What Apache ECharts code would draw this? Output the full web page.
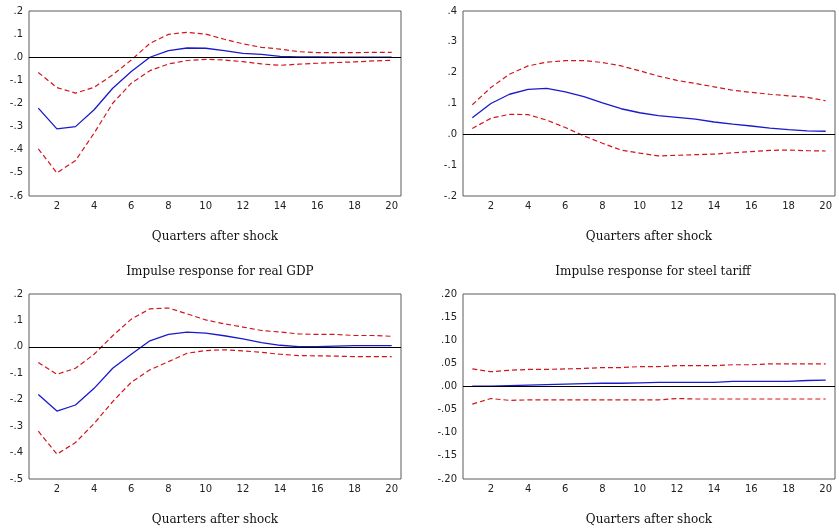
<!DOCTYPE html>
<html>
<head>
<meta charset="utf-8">
<script src="https://cdn.jsdelivr.net/npm/echarts@6/dist/echarts.min.js"></script>
<style>
    html, body { margin: 0; padding: 0; background: #fff; }
    #irf_chart { width: 839px; height: 529px; }
</style>
</head>
<body>
<div id="irf_chart"></div>
<script>
// quarters after the shock
var quarters = ['1', '2', '3', '4', '5', '6', '7', '8', '9', '10',
    '11', '12', '13', '14', '15', '16', '17', '18', '19', '20'];

// top left panel
var respA = [-0.22, -0.31, -0.30, -0.227, -0.134, -0.062, 0.0, 0.029, 0.040, 0.039,
    0.029, 0.017, 0.012, 0.004, 0.002, 0.001, 0.0, 0.0, 0.0, 0.0];
var upperA = [-0.066, -0.131, -0.155, -0.13, -0.076, -0.012, 0.06, 0.099, 0.108, 0.10,
    0.078, 0.058, 0.043, 0.035, 0.024, 0.02, 0.02, 0.02, 0.021, 0.021];
var lowerA = [-0.396, -0.50, -0.447, -0.328, -0.199, -0.112, -0.058, -0.029, -0.014, -0.009,
    -0.012, -0.019, -0.029, -0.035, -0.03, -0.026, -0.023, -0.02, -0.016, -0.013];

// top right panel
var respB = [0.054, 0.10, 0.13, 0.146, 0.149, 0.138, 0.122, 0.102, 0.083, 0.07,
    0.061, 0.055, 0.049, 0.04, 0.033, 0.027, 0.02, 0.015, 0.011, 0.01];
var upperB = [0.096, 0.152, 0.195, 0.222, 0.234, 0.239, 0.239, 0.233, 0.222, 0.206,
    0.189, 0.175, 0.165, 0.154, 0.143, 0.136, 0.13, 0.125, 0.12, 0.109];
var lowerB = [0.019, 0.052, 0.065, 0.064, 0.046, 0.022, -0.005, -0.029, -0.051, -0.061,
    -0.07, -0.068, -0.066, -0.064, -0.06, -0.056, -0.052, -0.051, -0.053, -0.054];

// bottom left: real GDP
var respC = [-0.18, -0.243, -0.22, -0.157, -0.081, -0.028, 0.023, 0.047, 0.056, 0.052,
    0.042, 0.03, 0.016, 0.006, 0.001, 0.001, 0.003, 0.005, 0.005, 0.005];
var upperC = [-0.059, -0.104, -0.081, -0.028, 0.042, 0.105, 0.144, 0.147, 0.125, 0.102,
    0.087, 0.075, 0.062, 0.056, 0.049, 0.047, 0.047, 0.043, 0.043, 0.04];
var lowerC = [-0.319, -0.406, -0.362, -0.29, -0.207, -0.134, -0.087, -0.056, -0.024, -0.014,
    -0.011, -0.015, -0.021, -0.028, -0.033, -0.034, -0.035, -0.037, -0.037, -0.037];

// bottom right: steel tariff
var respD = [0.001, 0.001, 0.002, 0.003, 0.004, 0.005, 0.006, 0.007, 0.007, 0.008,
    0.009, 0.009, 0.009, 0.009, 0.011, 0.011, 0.011, 0.011, 0.013, 0.014];
var upperD = [0.038, 0.032, 0.035, 0.037, 0.037, 0.038, 0.039, 0.041, 0.041, 0.043,
    0.043, 0.045, 0.045, 0.045, 0.047, 0.047, 0.049, 0.049, 0.049, 0.049];
var lowerD = [-0.038, -0.026, -0.03, -0.029, -0.029, -0.029, -0.029, -0.029, -0.029, -0.029,
    -0.029, -0.026, -0.027, -0.027, -0.027, -0.027, -0.027, -0.027, -0.027, -0.027];

var tickFont = 'DejaVu Sans';
var textFont = 'DejaVu Serif';

// .2 / -.1 style labels
function noLeadZero(digits) {
    return function (v) {
        return v.toFixed(digits).replace('0.', '.');
    };
}

function makeGrid(left, top) {
    return {
        left: left, top: top, width: 372, height: 185,
        show: true, borderColor: '#5a5a5a', borderWidth: 1
    };
}

function makeX(idx) {
    return {
        type: 'category', gridIndex: idx, data: quarters, boundaryGap: true,
        axisLine: {show: false}, axisTick: {show: false}, splitLine: {show: false},
        axisLabel: {
            interval: function (i) { return i % 2 === 1; },
            margin: 5, color: '#222', fontFamily: tickFont, fontSize: 10
        },
        name: 'Quarters after shock', nameLocation: 'middle', nameGap: 35,
        nameTextStyle: {color: '#111', fontFamily: textFont, fontSize: 12}
    };
}

function makeY(idx, min, max, step, digits) {
    return {
        type: 'value', gridIndex: idx, min: min, max: max, interval: step,
        axisLine: {show: false}, axisTick: {show: false}, splitLine: {show: false},
        axisLabel: {formatter: noLeadZero(digits), margin: 6, color: '#222', fontFamily: tickFont, fontSize: 10}
    };
}

function makeSeries(idx, mid, up, lo) {
    var dash = {color: '#d2141e', width: 1.2, type: [5, 3]};
    return [{
        type: 'line', xAxisIndex: idx, yAxisIndex: idx, data: mid, symbol: 'none',
        lineStyle: {color: '#1a1acc', width: 1.3}, z: 3,
        markLine: {
            silent: true, symbol: 'none', label: {show: false},
            lineStyle: {color: '#000', width: 1, type: 'solid'},
            data: [{yAxis: 0}]
        }
    }, {
        type: 'line', xAxisIndex: idx, yAxisIndex: idx, data: up, symbol: 'none', lineStyle: dash
    }, {
        type: 'line', xAxisIndex: idx, yAxisIndex: idx, data: lo, symbol: 'none', lineStyle: dash
    }];
}

var irf_chart = echarts.init(document.getElementById('irf_chart'));
var option = {
    backgroundColor: '#fff',
    animation: false,
    title: [{
        text: 'Impulse response for real GDP', left: 215, top: 261, textAlign: 'center',
        textStyle: {fontFamily: textFont, fontSize: 12, fontWeight: 'normal', color: '#111'}
    }, {
        text: 'Impulse response for steel tariff', left: 648, top: 261, textAlign: 'center',
        textStyle: {fontFamily: textFont, fontSize: 12, fontWeight: 'normal', color: '#111'}
    }],
    grid: [makeGrid(29, 11), makeGrid(463, 11), makeGrid(29, 294), makeGrid(463, 294)],
    xAxis: [makeX(0), makeX(1), makeX(2), makeX(3)],
    yAxis: [
        makeY(0, -0.6, 0.2, 0.1, 1),
        makeY(1, -0.2, 0.4, 0.1, 1),
        makeY(2, -0.5, 0.2, 0.1, 1),
        makeY(3, -0.2, 0.2, 0.05, 2)
    ],
    series: [].concat(
        makeSeries(0, respA, upperA, lowerA),
        makeSeries(1, respB, upperB, lowerB),
        makeSeries(2, respC, upperC, lowerC),
        makeSeries(3, respD, upperD, lowerD)
    )
};
irf_chart.setOption(option);
</script>
</body>
</html>
